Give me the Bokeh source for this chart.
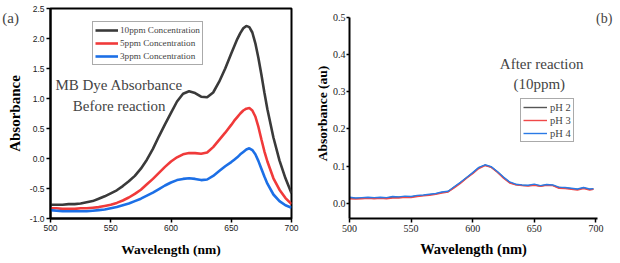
from bokeh.plotting import figure
from bokeh.layouts import row
from bokeh.models import Legend, LegendItem, Label, FixedTicker, PrintfTickFormatter, Range1d
from bokeh.embed import file_html
from bokeh.resources import INLINE

# ---------------- Panel (a) data ----------------
wavelength_a = [500, 505, 510, 515, 520, 525, 530, 535, 540, 545, 550, 555, 560, 565, 570,
                575, 580, 585, 590, 595, 600, 605, 610, 615, 620, 625, 630, 635, 640, 645,
                650, 652.5, 655, 657.5, 660, 662.5, 665, 667.5, 670, 672.5, 675, 677.5, 680,
                685, 690, 695, 700]
conc_10ppm = [-0.77, -0.77, -0.77, -0.76, -0.76, -0.75, -0.73, -0.71, -0.67, -0.63, -0.58,
              -0.53, -0.46, -0.38, -0.29, -0.17, -0.02, 0.16, 0.37, 0.57, 0.76, 0.95, 1.08,
              1.12, 1.09, 1.03, 1.02, 1.10, 1.28, 1.50, 1.75, 1.87, 1.99, 2.09, 2.17, 2.21,
              2.19, 2.10, 1.92, 1.68, 1.40, 1.10, 0.82, 0.35, -0.03, -0.33, -0.58]
conc_5ppm = [-0.83, -0.83, -0.84, -0.84, -0.84, -0.83, -0.83, -0.82, -0.81, -0.79, -0.77,
             -0.74, -0.70, -0.65, -0.59, -0.52, -0.43, -0.34, -0.24, -0.14, -0.05, 0.02, 0.07,
             0.09, 0.09, 0.08, 0.10, 0.19, 0.31, 0.43, 0.56, 0.63, 0.69, 0.75, 0.80, 0.83,
             0.84, 0.80, 0.70, 0.53, 0.32, 0.12, -0.05, -0.33, -0.52, -0.66, -0.76]
conc_3ppm = [-0.86, -0.87, -0.88, -0.88, -0.88, -0.88, -0.88, -0.87, -0.86, -0.85, -0.83,
             -0.81, -0.78, -0.75, -0.71, -0.67, -0.62, -0.57, -0.51, -0.45, -0.40, -0.36,
             -0.34, -0.33, -0.34, -0.36, -0.35, -0.29, -0.21, -0.13, -0.06, -0.02, 0.02, 0.07,
             0.11, 0.15, 0.17, 0.14, 0.07, -0.04, -0.17, -0.30, -0.42, -0.60, -0.71, -0.78,
             -0.82]
series_a_labels = ["10ppm Concentration", "5ppm Concentration", "3ppm Concentration"]
y_ticks_a = [-1.0, -0.5, 0.0, 0.5, 1.0, 1.5, 2.0, 2.5]
x_ticks = [500, 550, 600, 650, 700]

# ---------------- Panel (b) data ----------------
wavelength_b = [500, 505, 510, 515, 520, 525, 530, 535, 540, 545, 550, 555, 560, 565, 570,
                575, 580, 585, 590, 595, 600, 605, 610, 615, 620, 625, 630, 635, 640, 645,
                650, 655, 660, 665, 670, 675, 680, 685, 690, 695, 698]
ph2 = [0.015, 0.014, 0.014, 0.015, 0.015, 0.016, 0.015, 0.017, 0.017, 0.018, 0.018, 0.021,
       0.022, 0.024, 0.026, 0.030, 0.032, 0.044, 0.056, 0.069, 0.082, 0.096, 0.103, 0.098,
       0.085, 0.070, 0.057, 0.051, 0.049, 0.048, 0.050, 0.047, 0.050, 0.049, 0.043, 0.042,
       0.040, 0.038, 0.042, 0.038, 0.039]
ph3 = [0.013, 0.012, 0.013, 0.014, 0.013, 0.014, 0.013, 0.015, 0.015, 0.017, 0.016, 0.019,
       0.021, 0.022, 0.025, 0.028, 0.031, 0.042, 0.054, 0.068, 0.080, 0.094, 0.102, 0.097,
       0.084, 0.068, 0.055, 0.050, 0.048, 0.047, 0.049, 0.046, 0.049, 0.048, 0.041, 0.040,
       0.038, 0.036, 0.040, 0.036, 0.038]
ph4 = [0.017, 0.015, 0.016, 0.017, 0.016, 0.017, 0.016, 0.019, 0.018, 0.020, 0.019, 0.022,
       0.023, 0.025, 0.027, 0.031, 0.033, 0.045, 0.057, 0.070, 0.083, 0.097, 0.104, 0.099,
       0.086, 0.071, 0.058, 0.052, 0.050, 0.049, 0.052, 0.048, 0.051, 0.050, 0.044, 0.043,
       0.041, 0.039, 0.043, 0.039, 0.040]
series_b_labels = ["pH 2", "pH 3", "pH 4"]
y_ticks_b = [0.0, 0.1, 0.2, 0.3, 0.4, 0.5]

SERIF = "Liberation Serif"
SANS = "Liberation Sans"
H = 259
TOP = 8
BOTTOM = 40


def style_axis(ax, font, size, standoff, tick_out=4):
    ax.axis_line_width = 2
    ax.major_tick_line_width = 1.5
    ax.major_tick_out = tick_out
    ax.major_tick_in = 0
    ax.minor_tick_line_color = None
    ax.major_label_text_font = font
    ax.major_label_text_font_size = size
    ax.major_label_text_color = "#222222"
    ax.major_label_standoff = standoff
    ax.axis_label_text_font = SERIF
    ax.axis_label_text_font_style = "bold"
    ax.axis_label_text_color = "black"


# ---------------- Figure (a) ----------------
pa = figure(width=311, height=H, output_backend="svg", toolbar_location=None,
            x_range=Range1d(500, 700), y_range=Range1d(-1.0, 2.5),
            min_border_left=50, min_border_right=20, min_border_top=TOP, min_border_bottom=BOTTOM)
pa.grid.visible = False
pa.outline_line_color = "black"
pa.outline_line_width = 2
pa.background_fill_color = "white"
pa.border_fill_color = "white"

cols_a = ["#3a3a3a", "#f03a3a", "#1c6fe6"]
rs_a = []
for ys, c in zip([conc_10ppm, conc_5ppm, conc_3ppm], cols_a):
    rs_a.append(pa.line(wavelength_a, ys, line_color=c, line_width=2.6))

style_axis(pa.xaxis[0], SANS, "8.5px", 2)
style_axis(pa.yaxis[0], SANS, "8.5px", 2)
pa.xaxis.ticker = FixedTicker(ticks=x_ticks)
pa.yaxis.ticker = FixedTicker(ticks=y_ticks_a)
pa.yaxis.formatter = PrintfTickFormatter(format="%.1f")
pa.xaxis.axis_label = "Wavelength (nm)"
pa.xaxis.axis_label_text_font_size = "13.5px"
pa.xaxis.axis_label_standoff = 8
pa.yaxis.axis_label = "Absorbance"
pa.yaxis.axis_label_text_font_size = "15px"
pa.yaxis.axis_label_standoff = 4

leg_a = Legend(items=[LegendItem(label=l, renderers=[r]) for l, r in zip(series_a_labels, rs_a)],
               location=(42, 153), label_text_font=SERIF, label_text_font_size="9.2px",
               glyph_width=23, glyph_height=12, label_height=12, label_standoff=2,
               spacing=1, padding=2, margin=0,
               border_line_color="#555555", border_line_width=1,
               background_fill_color="white", background_fill_alpha=1)
pa.add_layout(leg_a)

pa.add_layout(Label(x=557, y=1.22, text="MB Dye Absorbance", text_font=SERIF,
                    text_font_size="15px", text_align="center", text_baseline="middle"))
pa.add_layout(Label(x=557, y=0.87, text="Before reaction", text_font=SERIF,
                    text_font_size="15px", text_align="center", text_baseline="middle"))
# panel tag: kept in a side panel so that it is not clipped to the plot frame
pa.add_layout(Label(x=460, y=2.35, text="(a)", text_font=SERIF,
                    text_font_size="15px", text_align="left", text_baseline="middle"), "right")

# ---------------- Figure (b) ----------------
pb = figure(width=306, height=H, output_backend="svg", toolbar_location=None,
            x_range=Range1d(500, 701.3), y_range=Range1d(-0.04, 0.523),
            min_border_left=30, min_border_right=20, min_border_top=TOP, min_border_bottom=BOTTOM)
pb.grid.visible = False
pb.outline_line_color = None
pb.background_fill_color = "white"
pb.border_fill_color = "white"

cols_b = ["#555555", "#f04848", "#2a7ae6"]
rs_b = []
for ys, c in zip([ph2, ph3, ph4], cols_b):
    rs_b.append(pb.line(wavelength_b, ys, line_color=c, line_width=1.4))

style_axis(pb.xaxis[0], SERIF, "10px", 2)
style_axis(pb.yaxis[0], SERIF, "10px", 1, tick_out=3)
pb.xaxis.ticker = FixedTicker(ticks=x_ticks)
pb.yaxis.ticker = FixedTicker(ticks=y_ticks_b)
pb.yaxis.formatter = PrintfTickFormatter(format="%.1f")
pb.yaxis.bounds = (-0.04, 0.5)
pb.xaxis.axis_label = "Wavelength (nm)"
pb.xaxis.axis_label_text_font_size = "14.5px"
pb.xaxis.axis_label_standoff = 6
pb.yaxis.axis_label = "Absorbance (au)"
pb.yaxis.axis_label_text_font_size = "13.5px"
pb.yaxis.axis_label_standoff = 0

leg_b = Legend(items=[LegendItem(label=l, renderers=[r]) for l, r in zip(series_b_labels, rs_b)],
               location=(171, 76), label_text_font=SERIF, label_text_font_size="10.5px",
               glyph_width=24, glyph_height=12, label_height=12, label_standoff=3,
               spacing=1, padding=2, margin=0,
               border_line_color="#555555", border_line_width=1,
               background_fill_color="white", background_fill_alpha=1)
pb.add_layout(leg_b)

pb.add_layout(Label(x=656, y=0.375, text="After reaction", text_font=SERIF,
                    text_font_size="15px", text_align="center", text_baseline="middle"))
pb.add_layout(Label(x=654, y=0.32, text="(10ppm)", text_font=SERIF,
                    text_font_size="15px", text_align="center", text_baseline="middle"))
pb.add_layout(Label(x=706.8, y=0.495, text="(b)", text_font=SERIF,
                    text_font_size="14px", text_align="center", text_baseline="middle"), "right")

layout = row(pa, pb)
open("out.html", "w").write(file_html(layout, INLINE))
